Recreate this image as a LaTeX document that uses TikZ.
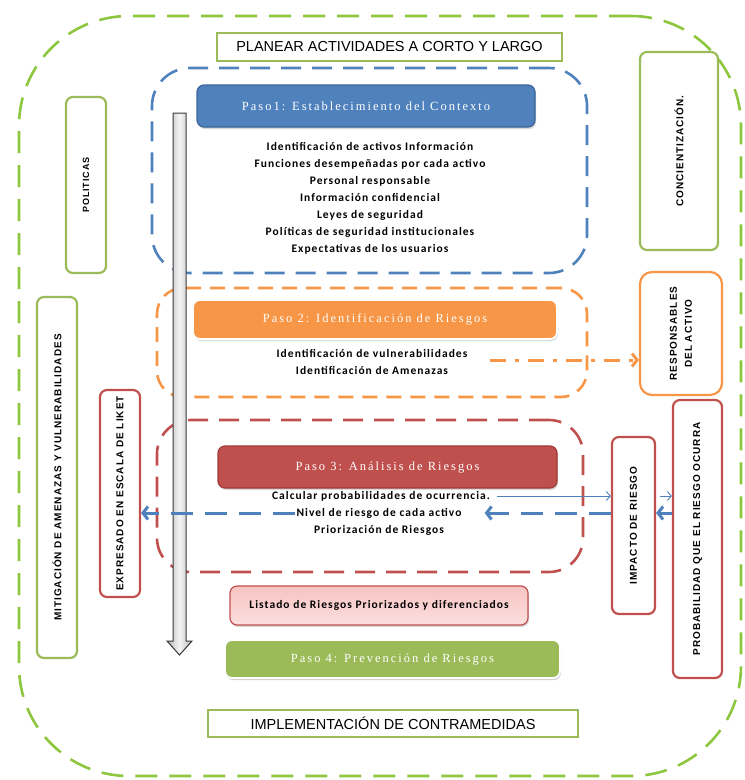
\documentclass[tikz,border=0pt]{standalone}
\usepackage{fontspec}
\setmainfont{Carlito}[LetterSpace=9]
\newfontfamily\capsfont{Liberation Sans}
\newfontfamily\sidefont{Liberation Sans}[LetterSpace=10]
\newfontfamily\titlefont{Liberation Serif}[LetterSpace=16]
\usetikzlibrary{arrows.meta,shadows}

\definecolor{limegreen}{HTML}{8DC63F}
\definecolor{olivegreen}{HTML}{9BBB59}
\definecolor{offblue}{HTML}{4F81BD}
\definecolor{offbluedark}{HTML}{3A659A}
\definecolor{offorange}{HTML}{F79646}
\definecolor{offred}{HTML}{C0504D}
\definecolor{offreddark}{HTML}{9E3B38}
\definecolor{pinkfill}{HTML}{F8C4C3}

\tikzset{
  stagegroup/.style={line width=2.6pt, dash pattern=on 20pt off 11pt, rounded corners=38pt},
  sidebox/.style={draw, line width=2.2pt, rounded corners=7pt, fill=white},
  flatbox/.style={draw=olivegreen, line width=2.5pt, fill=white,
    font=\capsfont\fontsize{14.5}{16}\selectfont},
  stepbox/.style={rounded corners=7pt, text=white,
    font=\titlefont\fontsize{12.5}{14}\selectfont},
  sidetext/.style={rotate=90, align=center, font=\sidefont\bfseries\fontsize{10}{12}\selectfont},
  bodytext/.style={align=center, font=\bfseries\fontsize{11.5}{17}\selectfont},
  thinflow/.style={draw=offblue, line width=0.9pt, -{Straight Barb[length=4pt,width=9pt]}},
  thickflow/.style={draw=offblue, line width=3pt, dash pattern=on 22pt off 12pt,
    -{Straight Barb[length=5pt,width=13pt,line width=3pt]}},
}

\begin{document}
\begin{tikzpicture}[x=1pt,y=-1pt]
\useasboundingbox (0,0) rectangle (745,780);

% outer frame
\node (marco) [draw=limegreen, line width=2.6pt, dash pattern=on 22pt off 12pt,
  rounded corners=110pt, minimum width=722pt, minimum height=760pt] at (380,396) {};

% planning banners
\node (planear) [flatbox, minimum width=345pt, minimum height=28pt] at (389.5,47)
  {PLANEAR ACTIVIDADES A CORTO Y LARGO};
\node (implementacion) [flatbox, minimum width=370pt, minimum height=27pt] at (393,723.5)
  {IMPLEMENTACIÓN DE CONTRAMEDIDAS};

% stage groups
\node (grupo1) [stagegroup, draw=offblue, minimum width=435pt, minimum height=205pt] at (369.5,170.5) {};
\node (grupo2) [stagegroup, draw=offorange, rounded corners=26pt, dash pattern=on 15pt off 9pt,
  minimum width=430pt, minimum height=109pt] at (372,342.5) {};
\node (grupo3) [stagegroup, draw=offred, rounded corners=34pt,
  minimum width=426pt, minimum height=152pt] at (370,496) {};

% step 1
\node (paso1) [stepbox, fill=offblue, draw=offbluedark, line width=1.2pt,
  drop shadow={shadow xshift=1pt, shadow yshift=-2pt, opacity=0.3},
  minimum width=338pt, minimum height=42pt] at (366,106)
  {Paso1: Establecimiento del Contexto};
\node (lista1) [bodytext] at (370,198) {Identificación de activos Información\\
  Funciones desempeñadas por cada activo\\ Personal responsable\\
  Información confidencial\\ Leyes de seguridad\\
  Políticas de seguridad institucionales\\ Expectativas de los usuarios};

% step 2
\node (paso2) [stepbox, fill=offorange, draw=white, line width=1.8pt,
  drop shadow={shadow xshift=1pt, shadow yshift=-2pt, opacity=0.3},
  minimum width=364pt, minimum height=39pt] at (375,319.5)
  {Paso 2: Identificación de Riesgos};
\node (vuln) [bodytext] at (372,353) {Identificación de vulnerabilidades};
\node (amen) [bodytext] at (372,370) {Identificación de Amenazas};

% step 3
\node (paso3) [stepbox, fill=offred, draw=offreddark, line width=1.2pt,
  drop shadow={shadow xshift=1pt, shadow yshift=-2pt, opacity=0.3},
  minimum width=339pt, minimum height=42pt] at (387.5,467)
  {Paso 3: Análisis de Riesgos};
\node (calc) [bodytext, inner sep=1pt] at (381,496) {Calcular probabilidades de ocurrencia.};
\node (nivel) [bodytext, inner sep=1pt] at (379,513) {Nivel de riesgo de cada activo};
\node (prior) [bodytext, inner sep=1pt] at (379,530) {Priorización de Riesgos};

% result list and step 4
\node (listado) [rounded corners=7pt, draw=offred, line width=1.2pt,
  top color=pinkfill, bottom color=pinkfill!55,
  drop shadow={shadow xshift=1pt, shadow yshift=-2pt, opacity=0.3},
  minimum width=298pt, minimum height=39pt, font=\bfseries\fontsize{11.5}{14}\selectfont]
  at (379,605.5) {Listado de Riesgos Priorizados y diferenciados};
\node (paso4) [stepbox, fill=olivegreen, draw=white, line width=1.8pt,
  drop shadow={shadow xshift=1pt, shadow yshift=-2pt, opacity=0.35},
  minimum width=335pt, minimum height=38pt] at (392.5,659)
  {Paso 4: Prevención de Riesgos};

% side boxes
\node (politicas) [sidebox, draw=olivegreen, minimum width=40pt, minimum height=176pt] at (86,185) {};
\node (politicas-t) [sidetext, font=\sidefont\bfseries\fontsize{9}{10}\selectfont] at (politicas) {POLITICAS};
\node (mitigacion) [sidebox, draw=olivegreen, minimum width=40pt, minimum height=361pt] at (57,477.5) {};
\node (mitigacion-t) [sidetext] at (mitigacion) {MITIGACIÓN DE AMENAZAS Y VULNERABILIDADES};
\node (concient) [sidebox, draw=olivegreen, minimum width=78pt, minimum height=198pt] at (679,151) {};
\node (concient-t) [sidetext] at (concient) {CONCIENTIZACIÓN.};
\node (responsables) [sidebox, draw=offorange, rounded corners=12pt, minimum width=82pt, minimum height=123pt] at (681,333.5) {};
\node (responsables-t) [sidetext] at (responsables) {RESPONSABLES\\[3pt] DEL ACTIVO};
\node (expresado) [sidebox, draw=offred, minimum width=40pt, minimum height=207pt] at (120,493.5) {};
\node (expresado-t) [sidetext] at (expresado) {EXPRESADO EN ESCALA DE LIKET};
\node (impacto) [sidebox, draw=offred, minimum width=43pt, minimum height=177pt] at (633.5,525.5) {};
\node (impacto-t) [sidetext] at (impacto) {IMPACTO DE RIESGO};
\node (probabilidad) [sidebox, draw=offred, minimum width=49pt, minimum height=278pt] at (697.5,539) {};
\node (probabilidad-t) [sidetext] at (probabilidad) {PROBABILIDAD QUE EL RIESGO OCURRA};

% process direction arrow
\draw[draw=gray!45!black, line width=1pt, left color=gray!55, right color=gray!55, middle color=gray!8]
  (173,113) -- (186,113) -- (186,641) -- (192,641) -- (179.5,655) -- (167,641) -- (173,641) -- cycle;

% connectors
\coordinate (o1) at (490,360);
\draw[draw=offorange, line width=3pt, dash pattern=on 16pt off 9pt on 4pt off 9pt,
  -{Straight Barb[length=5pt,width=13pt,line width=3pt]}] (o1) -- (responsables.west |- o1);

\draw[thinflow, shorten <=6pt] (calc.east) -- (impacto.west |- calc.east);
\draw[thinflow, shorten <=4pt] (impacto.east |- calc.east) -- (probabilidad.west |- calc.east);
\draw[thickflow] (impacto.west |- nivel.east) -- ([xshift=22pt]nivel.east);
\draw[thickflow] (probabilidad.west |- nivel.east) -- (impacto.east |- nivel.east);
\draw[thickflow] (nivel.west) -- (expresado.east |- nivel.west);
\end{tikzpicture}
\end{document}
